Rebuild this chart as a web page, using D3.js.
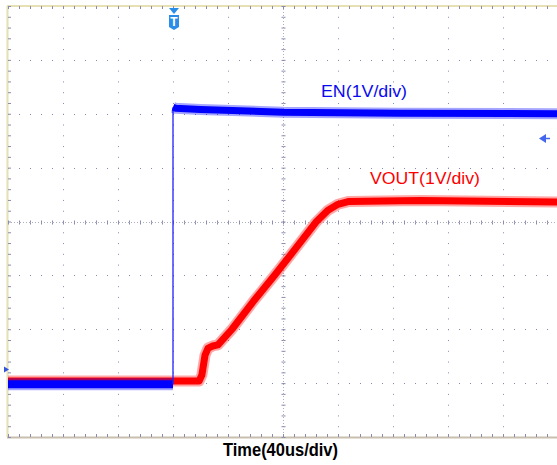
<!DOCTYPE html>
<html>
<head>
<meta charset="utf-8">
<script src="https://cdn.jsdelivr.net/npm/d3@7"></script>
<style>
  body { margin: 0; background: #fff; }
  svg { display: block; }
</style>
</head>
<body>
<script>
// scope settings: 40us/div, 1V/div, 10 x 8 divisions, trigger at t = 0
var timeDomain = [-120, 280];
var divDomain = [0, 8];

// EN channel (level in divisions from screen bottom)
var enTime  = [-120, -60, 0, 0, 2, 20, 80, 165, 280];
var enLevel = [0.98, 0.98, 0.98, 6.12, 6.10, 6.08, 6.03, 6.01, 6.00];
var enJump = 3;

// VOUT channel
var voutTime  = [-120, 0, 19, 21, 23.3, 25.5, 29, 32.7, 42.9, 58.2, 74.2, 89.5, 104, 112.7, 120, 127.3, 180, 280];
var voutLevel = [1.04, 1.04, 1.04, 1.15, 1.52, 1.65, 1.69, 1.71, 2.00, 2.51, 3.01, 3.51, 3.99, 4.21, 4.32, 4.37, 4.39, 4.36];

var labels = { en: "EN(1V/div)", vout: "VOUT(1V/div)", time: "Time(40us/div)" };

var svgWidth = 557, svgHeight = 465;

var svg = d3.select("body").append("svg")
  .attr("width", svgWidth)
  .attr("height", svgHeight);

var x = d3.scaleLinear().domain(timeDomain).range([8, 558]);
var y = d3.scaleLinear().domain(divDomain).range([437, 6]);

var gridColor = "#8a8aae";
var majorX = d3.range(timeDomain[0], timeDomain[1] + 0.01, 40);
var majorY = d3.range(0, 8.01, 1);
var minorX = d3.range(timeDomain[0], timeDomain[1] + 0.01, 8);
var minorY = d3.range(0, 8.01, 0.2);
var stepX = x(8) - x(0);
var stepY = y(0) - y(0.2);

var grid = svg.append("g");

// dotted grid lines
grid.selectAll(".vline")
  .data(majorX.filter(function(d) { return d !== timeDomain[0] && d !== 80; }))
  .enter().append("line")
  .attr("x1", function(d) { return Math.round(x(d)) + 0.5; })
  .attr("x2", function(d) { return Math.round(x(d)) + 0.5; })
  .attr("y1", y(8)).attr("y2", y(0))
  .attr("stroke", gridColor)
  .attr("stroke-dasharray", "1," + (stepY - 1));

grid.selectAll(".hline")
  .data(majorY.filter(function(d) { return d !== 0 && d !== 8 && d !== 4; }))
  .enter().append("line")
  .attr("y1", function(d) { return Math.round(y(d)) + 0.5; })
  .attr("y2", function(d) { return Math.round(y(d)) + 0.5; })
  .attr("x1", x(timeDomain[0])).attr("x2", x(timeDomain[1]))
  .attr("stroke", gridColor)
  .attr("stroke-dasharray", "1," + (stepX - 1));

// centre lines, denser
grid.append("line")
  .attr("x1", Math.round(x(80)) + 0.5).attr("x2", Math.round(x(80)) + 0.5)
  .attr("y1", y(8)).attr("y2", y(0))
  .attr("stroke", gridColor).attr("stroke-opacity", 0.7).attr("stroke-dasharray", "1,2");
grid.append("line")
  .attr("y1", Math.round(y(4)) + 0.5).attr("y2", Math.round(y(4)) + 0.5)
  .attr("x1", x(timeDomain[0])).attr("x2", x(timeDomain[1]))
  .attr("stroke", gridColor).attr("stroke-opacity", 0.7).attr("stroke-dasharray", "1,2");

// border lines
grid.append("line")
  .attr("x1", 7.5).attr("x2", 7.5).attr("y1", y(8)).attr("y2", y(0))
  .attr("stroke", "#e6e0b4").attr("stroke-width", 2);
grid.append("line")
  .attr("x1", 7).attr("x2", 558).attr("y1", 6).attr("y2", 6)
  .attr("stroke", "#e6e0b4").attr("stroke-width", 2);
grid.append("line")
  .attr("x1", 7).attr("x2", 558).attr("y1", 437.5).attr("y2", 437.5)
  .attr("stroke", "#c9bfae").attr("stroke-width", 2);

// minor ticks with axes
function tickAxis(axis, tx, ty) {
  var g = grid.append("g")
    .attr("transform", "translate(" + tx + "," + ty + ")")
    .call(axis);
  g.select(".domain").remove();
  g.selectAll("line").attr("stroke", gridColor);
  g.selectAll("text").remove();
}
tickAxis(d3.axisBottom(x).tickValues(minorX).tickSize(3).tickFormat(""), 0, 6);
tickAxis(d3.axisTop(x).tickValues(minorX).tickSize(3).tickFormat(""), 0, 437);
tickAxis(d3.axisRight(y).tickValues(minorY).tickSize(3).tickFormat(""), 8, 0);
tickAxis(d3.axisTop(x).tickValues(minorX).tickSize(2).tickFormat(""), 0, Math.round(y(4)) + 0.5);
tickAxis(d3.axisBottom(x).tickValues(minorX).tickSize(2).tickFormat(""), 0, Math.round(y(4)) + 0.5);
tickAxis(d3.axisLeft(y).tickValues(minorY).tickSize(2).tickFormat(""), Math.round(x(80)) + 0.5, 0);
tickAxis(d3.axisRight(y).tickValues(minorY).tickSize(2).tickFormat(""), Math.round(x(80)) + 0.5, 0);

// traces
var line = d3.line()
  .x(function(d) { return x(d[0]); })
  .y(function(d) { return y(d[1]); });

var vout = d3.zip(voutTime, voutLevel);
var en = d3.zip(enTime, enLevel);

function band(data, color, wide, core) {
  svg.append("path").datum(data).attr("d", line)
    .attr("fill", "none").attr("stroke", color)
    .attr("stroke-width", wide).attr("stroke-opacity", 0.35)
    .attr("stroke-linejoin", "round");
  svg.append("path").datum(data).attr("d", line)
    .attr("fill", "none").attr("stroke", color)
    .attr("stroke-width", core)
    .attr("stroke-linejoin", "round");
}

band(vout.slice(1), "#ff0000", 11, 7);
band(vout.slice(0, 2), "#ff0000", 11, 7);
band(en.slice(0, enJump), "#0000ff", 12, 8);
svg.append("path").datum(en.slice(enJump - 1, enJump + 1)).attr("d", line)
  .attr("fill", "none").attr("stroke", "#2020ff").attr("stroke-width", 1.3);
band(en.slice(enJump), "#0000ff", 11, 7);

// labels
svg.append("text")
  .attr("x", 321).attr("y", 97)
  .attr("textLength", 86).attr("lengthAdjust", "spacingAndGlyphs")
  .style("font-family", "Liberation Sans, Arial, sans-serif")
  .style("font-size", "17px")
  .attr("fill", "#0a0af0")
  .text(labels.en);

svg.append("text")
  .attr("x", 370).attr("y", 184)
  .attr("textLength", 110).attr("lengthAdjust", "spacingAndGlyphs")
  .style("font-family", "Liberation Sans, Arial, sans-serif")
  .style("font-size", "17px")
  .attr("fill", "#ff0000")
  .text(labels.vout);

svg.append("text")
  .attr("x", 223).attr("y", 456)
  .attr("textLength", 115).attr("lengthAdjust", "spacingAndGlyphs")
  .style("font-family", "Liberation Sans, Arial, sans-serif")
  .style("font-size", "18px")
  .style("font-weight", "bold")
  .attr("fill", "#000")
  .text(labels.time);

// trigger marker at t = 0
var tx = x(0) + 1;
svg.append("path")
  .attr("d", "M" + (tx - 5) + ",8 L" + (tx + 5) + ",8 L" + tx + ",14 Z")
  .attr("fill", "#2a8ee8");
svg.append("path")
  .attr("d", "M" + (tx - 5) + ",15 L" + (tx + 5) + ",15 L" + (tx + 5) + ",27 L" + tx + ",30 L" + (tx - 5) + ",27 Z")
  .attr("fill", "#2a8ee8");
svg.append("text")
  .attr("x", tx).attr("y", 26)
  .attr("text-anchor", "middle")
  .style("font-family", "Liberation Sans, Arial, sans-serif")
  .style("font-size", "12px").style("font-weight", "bold")
  .attr("fill", "#fff")
  .text("T");

// trigger level marker (right) and ground marker (left)
svg.append("path")
  .attr("d", "M539,138.5 L546,134 L546,143 Z")
  .attr("fill", "#4466ee");
svg.append("line")
  .attr("x1", 545).attr("x2", 550).attr("y1", 138.5).attr("y2", 138.5)
  .attr("stroke", "#4466ee").attr("stroke-width", 1.5);
svg.append("path")
  .attr("d", "M4,366.5 L9,369.5 L4,372.5 Z")
  .attr("fill", "#3355dd");
</script>
</body>
</html>
